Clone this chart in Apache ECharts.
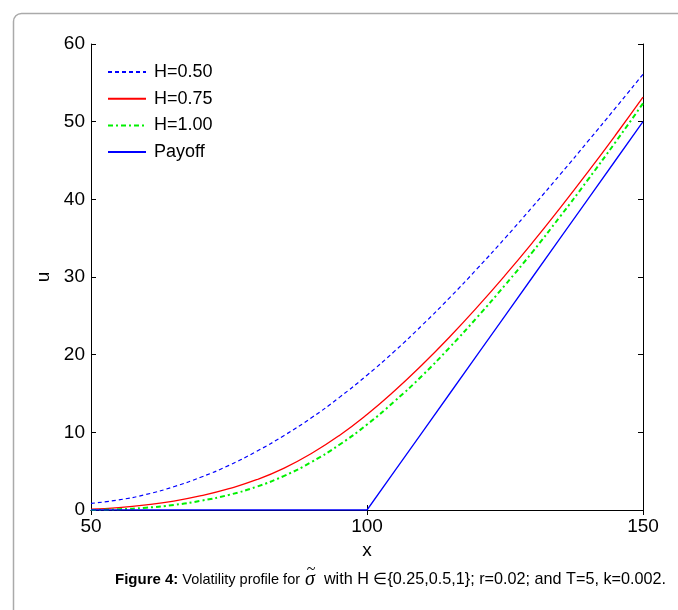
<!DOCTYPE html>
<html>
<head>
<meta charset="utf-8">
<script src="https://cdn.jsdelivr.net/npm/echarts@6/dist/echarts.min.js"></script>
<style>
  html, body { margin: 0; padding: 0; background: #fff; }
  #chart { width: 678px; height: 610px; }
</style>
</head>
<body>
<div id="chart"></div>
<script>
// x grid of the curves
const xs = [50, 55, 60, 65, 70, 75, 80, 85, 90, 95, 100, 105, 110, 115, 120, 125, 130, 135, 140, 145, 150];
const h050 = [0.85, 1.3, 2.0, 3.0, 4.25, 5.75, 7.55, 9.6, 11.9, 14.5, 17.35, 20.45, 23.8, 27.35, 31.1, 35.0, 39.05, 43.2, 47.45, 51.75, 56.1];
const h075 = [0.1, 0.3, 0.65, 1.15, 1.85, 2.75, 3.9, 5.4, 7.3, 9.6, 12.3, 15.35, 18.7, 22.3, 26.15, 30.2, 34.45, 38.9, 43.5, 48.25, 53.15];
const h100 = [0.0, 0.1, 0.3, 0.65, 1.2, 1.95, 3.0, 4.4, 6.2, 8.4, 11.0, 14.0, 17.3, 20.95, 24.85, 28.95, 33.25, 37.8, 42.5, 47.35, 52.35];
const payoff = [0, 0, 0, 0, 0, 0, 0, 0, 0, 0, 0, 5, 10, 15, 20, 25, 30, 35, 40, 45, 50];
const seriesNames = ["H=0.50", "H=0.75", "H=1.00", "Payoff"];

const font = "Liberation Sans, Arial, sans-serif";
const serif = "Liberation Serif, serif";
const pair = (ys) => xs.map((x, i) => [x, ys[i]]);

// caption pieces, measured so the tilde can sit over the sigma
const capParts = ["Figure 4:", " Volatility profile for ", "σ", "  with H \u2208{0.25,0.5,1}; r=0.02; and T=5, k=0.002."];
const ctx = document.createElement("canvas").getContext("2d");
function textW(s, f) { ctx.font = f; return ctx.measureText(s).width; }
const fBold = "bold 15px " + font;
const fHead = "14.5px " + font;
const fTail = "16.2px " + font;
const fSig = "italic 20px " + serif;
const capX = 115, capY = 580;
const w0 = textW(capParts[0], fBold);
const w1 = textW(capParts[1], fHead);
const w2 = textW(capParts[2], fSig);

const chart = echarts.init(document.getElementById("chart"));

const boxAxis = {
  axisLine: { show: true, lineStyle: { color: "#000", width: 1 } },
  axisTick: { show: true, inside: true, length: 5, lineStyle: { color: "#000" } },
  splitLine: { show: false },
};
const labelStyle = { fontFamily: font, fontSize: 19, color: "#000" };

chart.setOption({
  backgroundColor: "#fff",
  animation: false,
  grid: { left: 91, right: 35, top: 44, bottom: 100 },
  legend: {
    orient: "vertical",
    left: 102,
    top: 58,
    itemWidth: 38,
    itemHeight: 10,
    itemGap: 8.7,
    itemStyle: { opacity: 0 },
    textStyle: { fontFamily: font, fontSize: 18, color: "#000", padding: [0, 0, 0, 3] },
    data: seriesNames,
  },
  xAxis: [
    {
      type: "value", min: 50, max: 150, interval: 50,
      name: "x", nameLocation: "middle", nameGap: 30,
      nameTextStyle: labelStyle,
      axisLabel: { ...labelStyle, margin: 7 },
      ...boxAxis,
    },
    {
      type: "value", position: "top", min: 50, max: 150, interval: 50,
      axisLabel: { show: false },
      ...boxAxis,
    },
  ],
  yAxis: [
    {
      type: "value", min: 0, max: 60, interval: 10,
      name: "u", nameLocation: "middle", nameGap: 34, nameRotate: 90,
      nameTextStyle: labelStyle,
      axisLabel: { ...labelStyle, margin: 6 },
      ...boxAxis,
    },
    {
      type: "value", position: "right", min: 0, max: 60, interval: 10,
      axisLabel: { show: false },
      ...boxAxis,
    },
  ],
  series: [
    {
      name: seriesNames[0], type: "line", data: pair(h050), symbol: "none", smooth: true,
      itemStyle: { color: "#0000ff" },
      lineStyle: { color: "#0000ff", width: 1.2, type: [4, 3] },
    },
    {
      name: seriesNames[1], type: "line", data: pair(h075), symbol: "none", smooth: true,
      itemStyle: { color: "#ff0000" },
      lineStyle: { color: "#ff0000", width: 1.3, type: "solid" },
    },
    {
      name: seriesNames[2], type: "line", data: pair(h100), symbol: "none", smooth: true,
      itemStyle: { color: "#00f000" },
      lineStyle: { color: "#00f000", width: 2, type: [5, 3, 2, 3] },
    },
    {
      name: seriesNames[3], type: "line", data: pair(payoff), symbol: "none",
      itemStyle: { color: "#0000ff" },
      lineStyle: { color: "#0000ff", width: 1.3, type: "solid" },
    },
  ],
  graphic: [
    {
      type: "rect", left: 11, top: 11, silent: true, z: -1,
      shape: { width: 720, height: 700, r: 8 },
      style: { fill: "none", stroke: "#aaaaaa", lineWidth: 1.5 },
    },
    {
      type: "text", x: capX, y: capY,
      style: { text: capParts[0], font: fBold, fill: "#000", verticalAlign: "middle" },
    },
    {
      type: "text", x: capX + w0, y: capY,
      style: { text: capParts[1], font: fHead, fill: "#000", verticalAlign: "middle" },
    },
    {
      type: "text", x: capX + w0 + w1 + 1, y: capY,
      style: { text: capParts[2], font: fSig, fill: "#000", verticalAlign: "middle" },
    },
    {
      type: "text", x: capX + w0 + w1 + 1 + w2 / 2 + 1, y: capY - 10,
      style: { text: "~", font: "16px " + serif, fill: "#000", align: "center", verticalAlign: "middle" },
    },
    {
      type: "text", x: capX + w0 + w1 + 1 + w2, y: capY,
      style: { text: capParts[3], font: fTail, fill: "#000", verticalAlign: "middle" },
    },
  ],
});
</script>
</body>
</html>
